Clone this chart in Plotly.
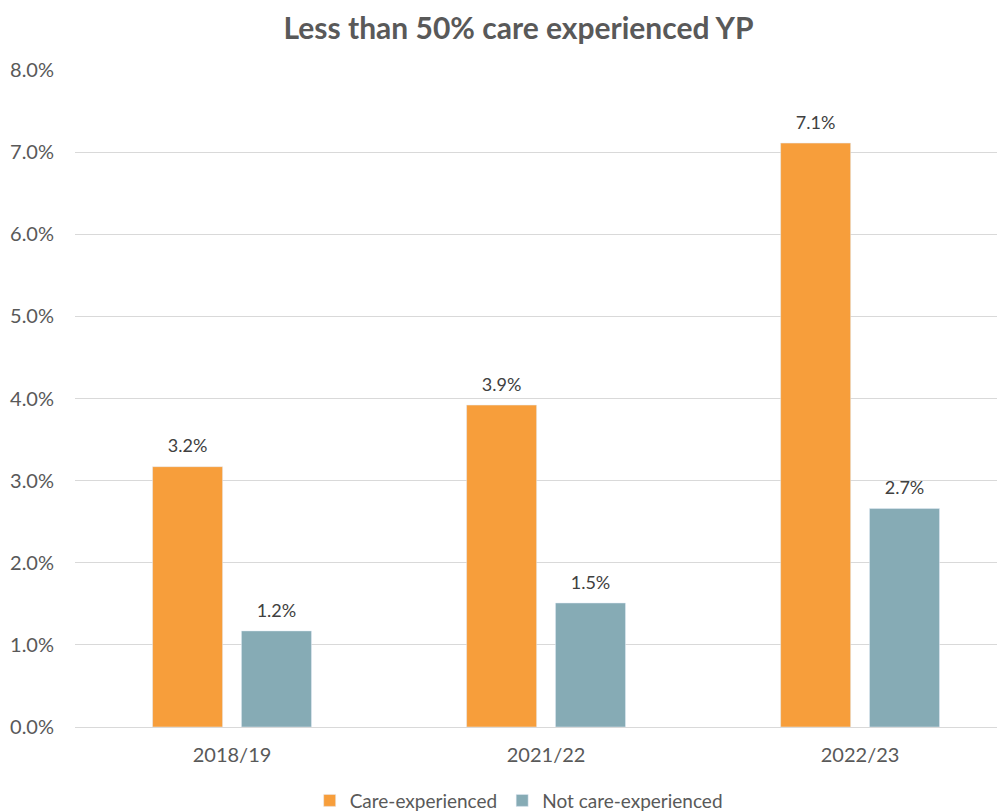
import plotly.graph_objects as go

years = ["2018/19", "2021/22", "2022/23"]
care_experienced = [0.0317, 0.0392, 0.0711]
not_care_experienced = [0.0117, 0.0151, 0.0266]

FONT = "Lato, 'Open Sans', sans-serif"
GRAY = "#595959"
LABEL = "#404040"

BAR_W = 0.223
X_RANGE = [-0.5, 2.487]
series = [
    ("Care-experienced", care_experienced, "#F79E3B", -0.253),
    ("Not care-experienced", not_care_experienced, "#86ABB5", 0.030),
]

fig = go.Figure()
for name, vals, color, off in series:
    fig.add_trace(go.Bar(
        x=years, y=vals, name=name, marker_color=color,
        width=BAR_W, offset=off,
    ))
# value labels, placed at the centre of each bar on a hidden numeric twin axis
for name, vals, color, off in series:
    fig.add_trace(go.Scatter(
        x=[i + off + BAR_W / 2 for i in range(len(years))], y=vals,
        xaxis="x2", mode="markers+text",
        marker=dict(size=14, opacity=0),
        text=[f"{v:.1%}" for v in vals], textposition="top center",
        textfont=dict(size=18, color=LABEL, family=FONT),
        showlegend=False, hoverinfo="skip", cliponaxis=False,
    ))

fig.update_layout(
    width=1005, height=812,
    paper_bgcolor="white", plot_bgcolor="white",
    font=dict(family=FONT, color=GRAY, size=18),
    title=dict(text="<b>Less than 50% care experienced YP</b>",
               x=0.508, xanchor="center", y=0.975, yanchor="middle",
               font=dict(size=30, color=GRAY, family=FONT)),
    margin=dict(l=67, r=0, t=62, b=93),
    barmode="overlay",
    xaxis2=dict(overlaying="x", range=X_RANGE, visible=False, type="linear"),
    legend=dict(orientation="h", x=0.473, xanchor="center", y=-0.083, yanchor="top",
                font=dict(size=19, color=GRAY, family=FONT), itemwidth=30,
                traceorder="normal"),
    showlegend=True,
)
fig.layout.xaxis.update(range=X_RANGE, showline=True, linecolor="#D9D9D9", linewidth=1,
                        ticks="", automargin=False, ticklabelstandoff=10,
                        tickfont=dict(size=20, color=GRAY, family=FONT))
fig.update_yaxes(range=[0, 0.08], dtick=0.01, tickformat=".1%",
                 showgrid=True, gridcolor="#D9D9D9", gridwidth=1,
                 zeroline=False, ticks="", automargin=False, ticklabelstandoff=20,
                 tickfont=dict(size=20, color=GRAY, family=FONT))

fig.write_html("out.html")
